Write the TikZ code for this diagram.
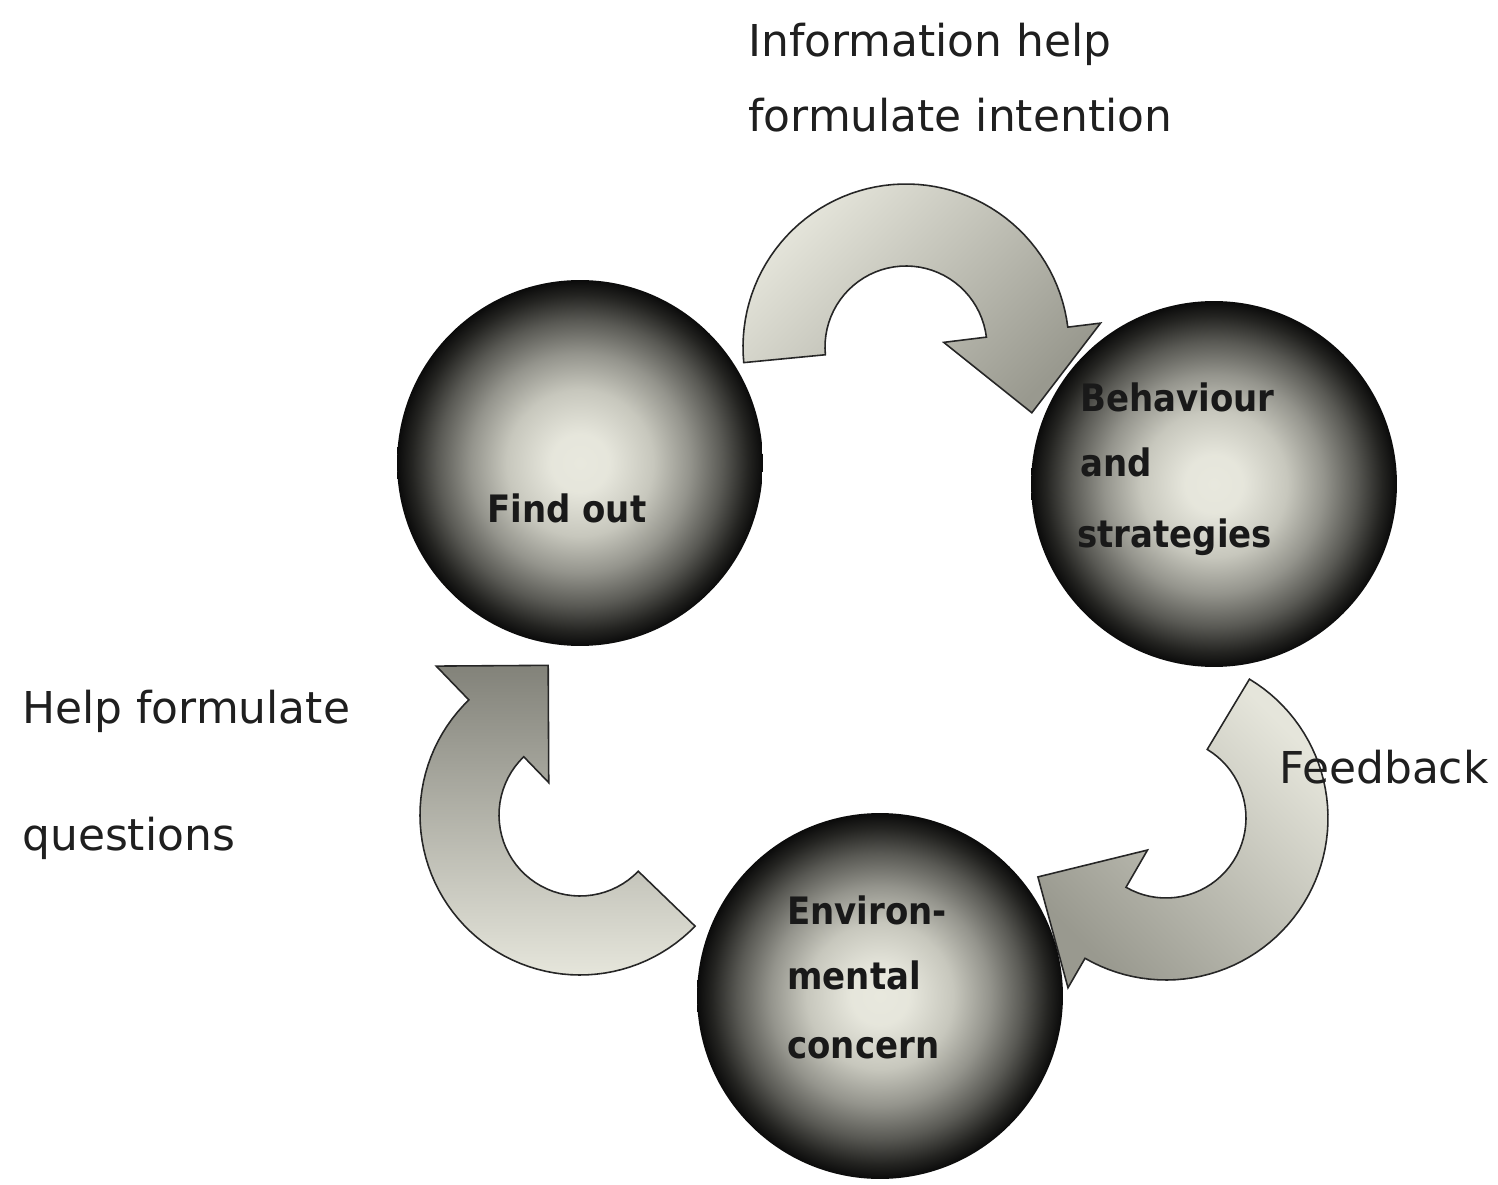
\documentclass[tikz,border=0pt]{standalone}
\usepackage{fontspec}
\newfontfamily\labelfont{DejaVu Sans}
\newfontfamily\ballfont[FakeStretch=0.9]{DejaVu Sans}

% light centre fading to a black rim (the rim of the disc sits at 25bp)
\pgfdeclareradialshading{spherefill}{\pgfpoint{0bp}{0bp}}{%
  rgb(0bp)=(0.91,0.91,0.87);
  rgb(4bp)=(0.90,0.90,0.86);
  rgb(10bp)=(0.78,0.78,0.74);
  rgb(15bp)=(0.58,0.58,0.55);
  rgb(19.5bp)=(0.35,0.35,0.33);
  rgb(23bp)=(0.14,0.14,0.13);
  rgb(25bp)=(0.04,0.04,0.04);
  rgb(50bp)=(0.04,0.04,0.04)}

\definecolor{arrowlight}{rgb}{0.90,0.90,0.86}
\definecolor{arrowdark}{rgb}{0.60,0.60,0.56}

\tikzset{
  lbl/.style={font=\labelfont\fontsize{25pt}{30pt}\selectfont, text=black!88,
              inner sep=0pt, anchor=base west},
  balltext/.style={font=\ballfont\bfseries\fontsize{21.5pt}{26pt}\selectfont,
              text=black!90, inner sep=0pt, anchor=base west},
  ball/.style={circle, minimum size=7.32cm, inner sep=0pt, shade, shading=spherefill},
  bodyarrow/.style={draw=black!85, line width=0.9pt, line join=miter},
}

\begin{document}
\begin{tikzpicture}[x=0.02cm, y=-0.02cm]
\useasboundingbox (0,0) rectangle (1498,1185);
\fill[white] (0,0) rectangle (1498,1185);

% curved block arrows (drawn first, the spheres sit over their tips)
\begin{scope}[shift={(906,347)}]
  \shade[bodyarrow, top color=arrowlight, bottom color=arrowdark, shading angle=45]
    plot[domain=174.5:353, samples=60, variable=\t] ({163*cos(\t)},{163*sin(\t)})
    -- (353:196) -- (387.6:142) -- (353:38) -- (353:81)
    -- plot[domain=353:174.5, samples=40, variable=\t] ({81*cos(\t)},{81*sin(\t)})
    -- cycle;
\end{scope}

\begin{scope}[shift={(1166,818)}]
  \shade[bodyarrow, top color=arrowlight, bottom color=arrowdark, shading angle=-45]
    plot[domain=-59:120, samples=60, variable=\t] ({162*cos(\t)},{162*sin(\t)})
    -- (120:196) -- (155.3:141) -- (120:37) -- (120:80)
    -- plot[domain=120:-59, samples=40, variable=\t] ({80*cos(\t)},{80*sin(\t)})
    -- cycle;
\end{scope}

\begin{scope}[shift={(580,815)}]
  \shade[bodyarrow, top color=arrowdark!85!black, bottom color=arrowlight]
    plot[domain=44:226, samples=60, variable=\t] ({160*cos(\t)},{160*sin(\t)})
    -- (226:207) -- (258:153) -- (226:45) -- (226:81)
    -- plot[domain=226:44, samples=40, variable=\t] ({81*cos(\t)},{81*sin(\t)})
    -- cycle;
\end{scope}

% spheres
\node[ball] (find)  at (580,463)  {};
\node[ball] (behav) at (1214,484) {};
\node[ball] (envir) at (880,996)  {};

% sphere captions
\node[balltext] (findtxt) at (487,523) {Find out};
\node[balltext] (behav1) at (1080,412) {Behaviour};
\node[balltext] (behav2) at (1080,477) {and};
\node[balltext] (behav3) at (1077,548) {strategies};
\node[balltext] (envir1) at (787,924) {Environ-};
\node[balltext] (envir2) at (787,989) {mental};
\node[balltext] (envir3) at (787,1058) {concern};

% arrow captions
\node[lbl] (info1) at (748,57)  {Information help};
\node[lbl] (info2) at (748,132) {formulate intention};
\node[lbl] (help1) at (22,723)  {Help formulate};
\node[lbl] (help2) at (22,850)  {questions};
\node[lbl] (feed)  at (1279,783) {Feedback};
\end{tikzpicture}
\end{document}
